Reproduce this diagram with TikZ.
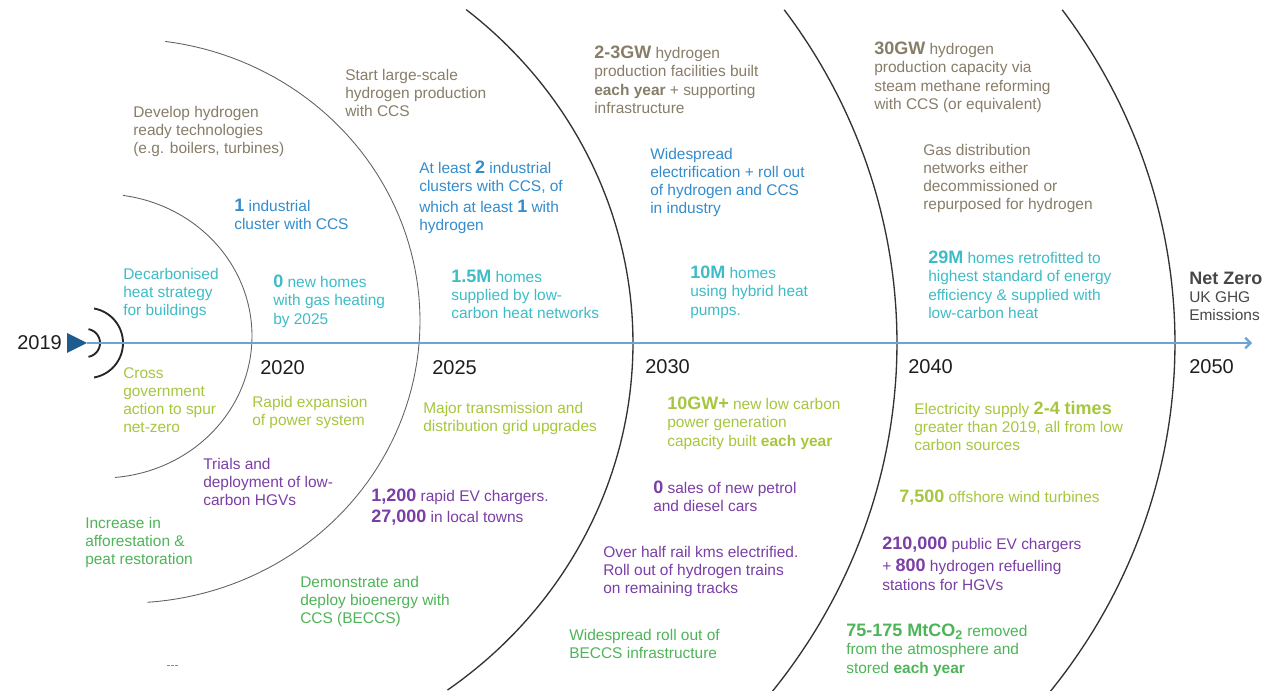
\documentclass[tikz,border=0pt]{standalone}
\usepackage{fontspec}
\setmainfont{Liberation Sans}
\usepackage{tikz}
\usetikzlibrary{arrows.meta}

\definecolor{hydrocol}{RGB}{135,125,104}
\definecolor{induscol}{RGB}{52,140,204}
\definecolor{heatcol}{RGB}{62,188,198}
\definecolor{powercol}{RGB}{166,198,62}
\definecolor{transcol}{RGB}{122,62,166}
\definecolor{landcol}{RGB}{78,180,88}
\definecolor{axiscol}{RGB}{104,164,216}
\definecolor{axisdark}{RGB}{30,92,142}
\definecolor{yeartext}{RGB}{30,30,30}

\newcommand{\keyfig}[1]{{\fontsize{13.5}{13.6}\selectfont\bfseries #1}}

\begin{document}
\begin{tikzpicture}[
x=0.75pt, y=-0.75pt,
note/.style={anchor=north west, inner sep=0pt, align=left, yshift=-1.5pt,
  font=\fontsize{11.6}{13.6}\selectfont, execute at begin node=\strut},
hydro/.style={note, text=hydrocol},
indus/.style={note, text=induscol},
heat/.style={note, text=heatcol},
power/.style={note, text=powercol},
trans/.style={note, text=transcol},
land/.style={note, text=landcol},
year/.style={anchor=west, inner sep=0pt, font=\fontsize{15}{18}\selectfont, text=yeartext},
thinarc/.style={draw=black!62, line width=0.65pt},
thickarc/.style={draw=black!80, line width=1pt},
startarc/.style={draw=black!85, line width=1.4pt},
axisline/.style={draw=axiscol, line width=1.6pt, -{Straight Barb[length=4pt, width=8pt]}},
]
\useasboundingbox (0,0) rectangle (1279,691);

%Arcs
\foreach \cx/\cy/\rx/\ry/\ta/\tb/\s in {102/336/150/142/-82/85/thinarc,
    127/321/293/282/-82.5/86/thinarc, 183/343/450/429/-51/54/thickarc,
    297/343/600/571/-35.7/37.6/thickarc, 575/343/600/571/-35.7/37.6/thickarc}
  \draw[\s] plot[domain=\ta:\tb, samples=90] ({\cx+\rx*cos(\x)}, {\cy+\ry*sin(\x)});
\draw[startarc] plot[domain=-80:80, samples=30] ({86+14*cos(\x)}, {343+14*sin(\x)});
\draw[startarc] plot[domain=-80:80, samples=40] ({88+35*cos(\x)}, {343+35*sin(\x)});

%Axis
\node[year] (y2019) at (17,343) {2019};
\coordinate (start) at (87,343);
\coordinate (finish) at (1252,343);
\fill[axisdark] (67,333) -- (start) -- (67,353) -- cycle;
\draw[axisline] (start) -- (finish);

\node[year] (y2020) at (260,368) {2020};
\node[year] (y2025) at (432,368) {2025};
\node[year] (y2030) at (645,367) {2030};
\node[year] (y2040) at (908,367) {2040};
\node[year] (y2050) at (1189,367) {2050};

%Hydrogen
\node[hydro] (h1) at (133,104) {Develop hydrogen\\ready technologies\\(e.g. boilers, turbines)};
\node[hydro] (h2) at (345,67) {Start large-scale\\hydrogen production\\with CCS};
\node[hydro] (h3) at (594,44) {\keyfig{2-3GW} hydrogen\\production facilities built\\\textbf{each year} + supporting\\infrastructure};
\node[hydro] (h4) at (874,40) {\keyfig{30GW} hydrogen\\production capacity via\\steam methane reforming\\with CCS (or equivalent)};
\node[hydro] (h5) at (923,142) {Gas distribution\\networks either\\decommissioned or\\repurposed for hydrogen};

%Industry
\node[indus] (i1) at (234,197) {\keyfig{1} industrial\\cluster with CCS};
\node[indus] (i2) at (419,159) {At least \keyfig{2} industrial\\clusters with CCS, of\\[2pt]which at least \keyfig{1} with\\hydrogen};
\node[indus] (i3) at (650,146) {Widespread\\electrification + roll out\\of hydrogen and CCS\\in industry};

%Heat
\node[heat] (c1) at (123,266) {Decarbonised\\heat strategy\\for buildings};
\node[heat] (c2) at (273,273) {\keyfig{0} new homes\\with gas heating\\by 2025};
\node[heat] (c3) at (451,268) {\keyfig{1.5M} homes\\supplied by low-\\carbon heat networks};
\node[heat] (c4) at (690,264) {\keyfig{10M} homes\\using hybrid heat\\pumps.};
\node[heat] (c5) at (928,249) {\keyfig{29M} homes retrofitted to\\highest standard of energy\\efficiency \& supplied with\\low-carbon heat};

\node[note, text=black!72] (nz) at (1189,270) {\keyfig{Net Zero}\\UK GHG\\Emissions};

%Power
\node[power] (p1) at (123,365) {Cross\\government\\action to spur\\net-zero};
\node[power] (p2) at (252,394) {Rapid expansion\\of power system};
\node[power] (p3) at (423,400) {Major transmission and\\distribution grid upgrades};
\node[power] (p4) at (667,395) {\keyfig{10GW+} new low carbon\\power generation\\capacity built \textbf{each year}};
\node[power] (p5) at (914,399) {Electricity supply \keyfig{2-4 times}\\greater than 2019, all from low\\carbon sources};
\node[power] (p6) at (899,488) {\keyfig{7,500} offshore wind turbines};

%Transport
\node[trans] (t1) at (203,456) {Trials and\\deployment of low-\\carbon HGVs};
\node[trans] (t2) at (371,487) {\keyfig{1,200} rapid EV chargers.\\[2pt]\keyfig{27,000} in local towns};
\node[trans] (t3) at (653,479) {\keyfig{0} sales of new petrol\\and diesel cars};
\node[trans] (t4) at (603,544) {Over half rail kms electrified.\\Roll out of hydrogen trains\\on remaining tracks};
\node[trans] (t5) at (882,535) {\keyfig{210,000} public EV chargers\\[3pt]+ \keyfig{800} hydrogen refuelling\\stations for HGVs};

%Land
\node[land] (l1) at (85,515) {Increase in\\afforestation \&\\peat restoration};
\node[land] (l2) at (300,574) {Demonstrate and\\deploy bioenergy with\\CCS (BECCS)};
\node[land] (l3) at (569,627) {Widespread roll out of\\BECCS infrastructure};
\node[land] (l4) at (846,622) {\keyfig{75-175 MtCO\textsubscript{2}} removed\\from the atmosphere and\\stored \textbf{each year}};

\draw[black!45, line width=0.5pt, dash pattern=on 2pt off 1pt] (167,665) -- (178,665);
\end{tikzpicture}
\end{document}
